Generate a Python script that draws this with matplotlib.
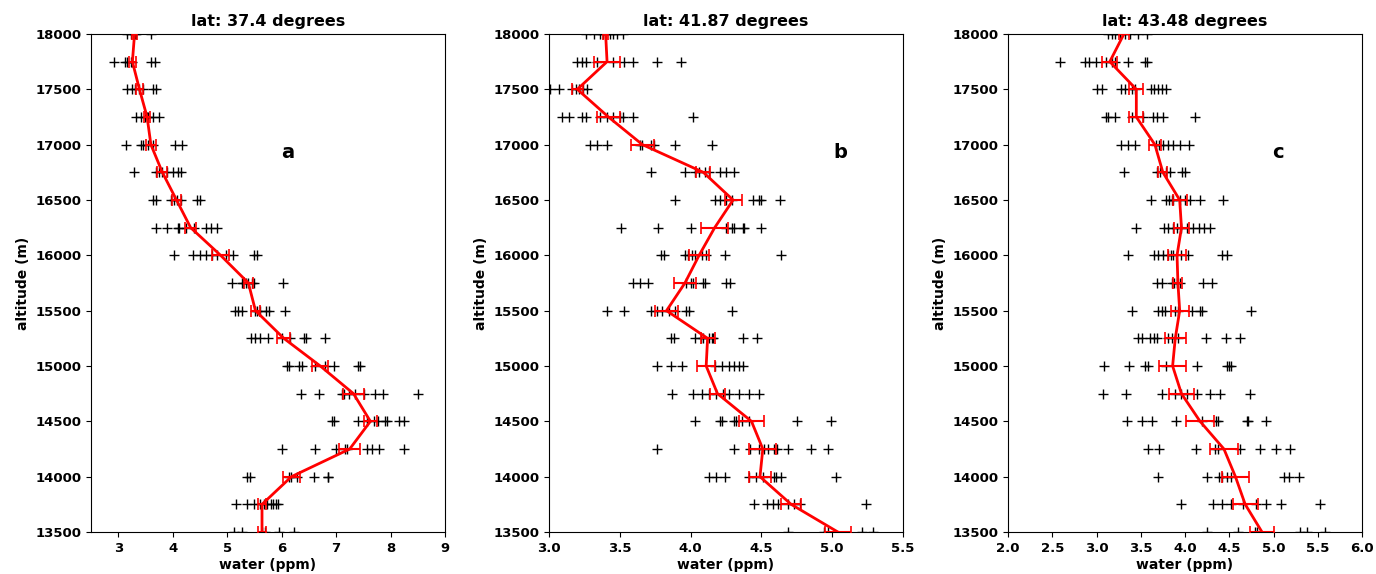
import matplotlib

matplotlib.use("Agg")
import matplotlib.pyplot as plt  # noqa: E402
import numpy as np

# altitude levels, top to bottom (m)
levels = [18000, 17750, 17500, 17250, 17000, 16750, 16500, 16250, 16000, 15750,
          15500, 15250, 15000, 14750, 14500, 14250, 14000, 13750, 13500]

titles = ["lat: 37.4 degrees", "lat: 41.87 degrees", "lat: 43.48 degrees"]
panel_letters = ["a", "b", "c"]

# individual water measurements (ppm) per level
points_a = [
    [3.17, 3.23, 3.30, 3.32, 3.60],
    [2.93, 3.13, 3.17, 3.23, 3.26, 3.60, 3.68],
    [3.17, 3.26, 3.31, 3.39, 3.46, 3.63, 3.69],
    [3.32, 3.42, 3.49, 3.52, 3.55, 3.63, 3.74],
    [3.15, 3.42, 3.46, 3.55, 3.63, 4.04, 4.18],
    [3.29, 3.69, 3.74, 3.81, 3.90, 4.01, 4.09, 4.15],
    [3.63, 3.69, 3.97, 4.03, 4.07, 4.15, 4.45, 4.51],
    [3.70, 3.90, 4.09, 4.12, 4.24, 4.39, 4.61, 4.70, 4.82],
    [4.03, 4.37, 4.51, 4.61, 4.72, 4.82, 4.97, 5.10, 5.49, 5.55],
    [5.08, 5.27, 5.29, 5.34, 5.39, 5.46, 5.49, 6.02],
    [5.14, 5.20, 5.27, 5.52, 5.55, 5.61, 5.71, 5.77, 6.07],
    [5.43, 5.52, 5.61, 5.75, 6.01, 6.16, 6.41, 6.44, 6.79],
    [6.10, 6.13, 6.32, 6.37, 6.62, 6.80, 6.96, 7.40, 7.44],
    [6.35, 6.68, 7.10, 7.14, 7.23, 7.34, 7.51, 7.72, 7.87, 8.50],
    [6.93, 6.96, 7.40, 7.57, 7.69, 7.77, 7.90, 7.93, 8.15, 8.24],
    [6.01, 6.62, 6.99, 7.17, 7.20, 7.57, 7.66, 7.78, 8.24],
    [5.37, 5.42, 6.13, 6.18, 6.29, 6.59, 6.85, 6.86],
    [5.16, 5.37, 5.49, 5.61, 5.67, 5.73, 5.80, 5.84, 5.89, 5.94],
    [5.13, 5.28, 5.64, 5.70, 5.95, 6.22],
]
points_b = [
    [3.26, 3.32, 3.36, 3.38, 3.40, 3.43, 3.45, 3.48, 3.52],
    [3.20, 3.23, 3.26, 3.34, 3.45, 3.53, 3.59, 3.76, 3.93],
    [3.01, 3.07, 3.16, 3.19, 3.21, 3.24, 3.27],
    [3.09, 3.14, 3.23, 3.26, 3.36, 3.41, 3.45, 3.50, 3.52, 3.59, 4.02],
    [3.29, 3.34, 3.41, 3.64, 3.66, 3.72, 3.74, 3.89, 4.15],
    [3.72, 3.96, 4.03, 4.06, 4.10, 4.13, 4.21, 4.25, 4.31],
    [3.89, 4.17, 4.21, 4.25, 4.29, 4.44, 4.48, 4.50, 4.63],
    [3.51, 3.77, 4.00, 4.25, 4.29, 4.31, 4.37, 4.38, 4.50],
    [3.79, 3.81, 3.96, 3.98, 4.01, 4.03, 4.08, 4.11, 4.24, 4.64],
    [3.59, 3.64, 3.70, 3.97, 4.00, 4.02, 4.09, 4.10, 4.25, 4.28],
    [3.41, 3.53, 3.72, 3.76, 3.80, 3.85, 3.89, 3.97, 3.99, 4.29],
    [3.86, 3.88, 4.03, 4.07, 4.09, 4.13, 4.15, 4.16, 4.37, 4.47],
    [3.76, 3.86, 3.94, 4.17, 4.22, 4.27, 4.31, 4.34, 4.37],
    [3.87, 4.02, 4.08, 4.13, 4.18, 4.23, 4.27, 4.34, 4.41, 4.48],
    [4.03, 4.21, 4.22, 4.31, 4.32, 4.36, 4.41, 4.75, 4.99],
    [3.76, 4.31, 4.42, 4.48, 4.52, 4.55, 4.59, 4.61, 4.69, 4.85, 4.97],
    [4.13, 4.18, 4.24, 4.41, 4.46, 4.51, 4.59, 4.60, 4.64, 5.03],
    [4.45, 4.54, 4.58, 4.62, 4.69, 4.73, 4.77, 5.24],
    [4.69, 4.94, 4.97, 5.21, 5.29],
]
points_c = [
    [3.13, 3.17, 3.21, 3.26, 3.32, 3.38, 3.47, 3.57],
    [2.59, 2.87, 2.91, 2.99, 3.11, 3.17, 3.21, 3.36, 3.55, 3.57],
    [3.00, 3.06, 3.28, 3.32, 3.40, 3.43, 3.62, 3.65, 3.69, 3.74, 3.79],
    [3.11, 3.13, 3.21, 3.40, 3.52, 3.64, 3.68, 3.75, 4.11],
    [3.28, 3.36, 3.43, 3.67, 3.71, 3.75, 3.81, 3.87, 3.94, 4.04],
    [3.31, 3.68, 3.72, 3.79, 3.83, 3.97, 4.00],
    [3.62, 3.79, 3.82, 3.85, 3.87, 3.94, 4.00, 4.06, 4.17, 4.43],
    [3.45, 3.76, 3.81, 3.86, 3.91, 3.96, 4.02, 4.09, 4.16, 4.22, 4.28],
    [3.36, 3.65, 3.70, 3.75, 3.81, 3.84, 3.87, 3.96, 4.03, 4.42, 4.48],
    [3.68, 3.74, 3.85, 3.88, 3.91, 3.94, 4.20, 4.30],
    [3.40, 3.70, 3.74, 3.77, 3.89, 3.92, 4.08, 4.17, 4.19, 4.75],
    [3.47, 3.51, 3.60, 3.65, 3.68, 3.81, 3.85, 3.92, 4.24, 4.46, 4.62],
    [3.08, 3.37, 3.55, 3.58, 3.79, 4.14, 4.47, 4.50, 4.52],
    [3.07, 3.33, 3.74, 3.89, 3.96, 4.02, 4.13, 4.28, 4.39, 4.74],
    [3.34, 3.51, 3.63, 3.90, 4.19, 4.35, 4.37, 4.70, 4.71, 4.91],
    [3.58, 3.71, 4.12, 4.34, 4.37, 4.62, 4.85, 5.03, 5.19],
    [3.70, 4.25, 4.38, 4.42, 4.47, 4.52, 5.12, 5.18, 5.29],
    [3.96, 4.32, 4.42, 4.52, 4.65, 4.80, 4.92, 5.08, 5.52],
    [4.25, 4.60, 4.79, 4.81, 5.30, 5.38, 5.58],
]

# mean profile and its error per level
mean_a = [3.30, 3.26, 3.39, 3.53, 3.60, 3.81, 4.07, 4.33, 4.88, 5.39,
          5.52, 6.04, 6.71, 7.32, 7.63, 7.25, 6.18, 5.64, 5.64]
err_a = [0.05, 0.07, 0.07, 0.06, 0.09, 0.09, 0.08, 0.10, 0.15, 0.08,
         0.08, 0.12, 0.15, 0.20, 0.12, 0.19, 0.15, 0.07, 0.07]
mean_b = [3.40, 3.41, 3.20, 3.42, 3.66, 4.09, 4.30, 4.17, 4.06, 3.96,
          3.83, 4.12, 4.11, 4.19, 4.43, 4.51, 4.49, 4.71, 5.04]
err_b = [0.02, 0.09, 0.04, 0.08, 0.08, 0.05, 0.06, 0.095, 0.07, 0.075,
         0.08, 0.05, 0.065, 0.055, 0.09, 0.095, 0.08, 0.07, 0.09]
mean_c = [3.31, 3.15, 3.45, 3.45, 3.66, 3.75, 3.94, 3.96, 3.91, 3.92,
          3.94, 3.89, 3.86, 3.96, 4.17, 4.44, 4.57, 4.68, 4.87]
err_c = [0.06, 0.085, 0.08, 0.08, 0.065, 0.05, 0.08, 0.08, 0.10, 0.05,
         0.10, 0.12, 0.155, 0.14, 0.16, 0.16, 0.15, 0.14, 0.13]

xlims = [(2.5, 9.0), (3.0, 5.5), (2.0, 6.0)]
xticks = [np.arange(3, 10, 1), np.arange(3.0, 5.51, 0.5), np.arange(2.0, 6.01, 0.5)]
xtick_fmt = ["{:.0f}", "{:.1f}", "{:.1f}"]
letter_pos = [(6.12, 16925), (5.06, 16925), (5.05, 16925)]

panels = [
    (points_a, mean_a, err_a),
    (points_b, mean_b, err_b),
    (points_c, mean_c, err_c),
]

W, H = 1376, 574
fig = plt.figure(figsize=(W / 100, H / 100), dpi=100)
lefts = [91, 549, 1008]

for i, (pts, mean, err) in enumerate(panels):
    ax = fig.add_axes([lefts[i] / W, (H - 532) / H, 354 / W, 498 / H])

    # scatter of individual values
    xs = [v for row in pts for v in row]
    ys = [lev for row, lev in zip(pts, levels) for _ in row]
    ax.plot(xs, ys, linestyle="none", marker="+", color="black",
            markersize=7, markeredgewidth=1.0)

    # mean profile with error bars
    ax.errorbar(mean, levels, xerr=err, color="red", linewidth=2,
                elinewidth=1.5, capsize=4, capthick=1.2, zorder=3)

    ax.set_xlim(*xlims[i])
    ax.set_ylim(13500, 18000)
    ax.set_yticks(np.arange(13500, 18001, 500))
    ax.set_xticks(xticks[i])
    ax.set_xticklabels([xtick_fmt[i].format(t) for t in xticks[i]],
                       fontweight="bold", fontsize=9.5)
    ax.set_yticklabels([str(t) for t in range(13500, 18001, 500)],
                       fontweight="bold", fontsize=9.5)

    ax.set_title(titles[i], fontweight="bold", fontsize=11.5, pad=6)
    ax.set_xlabel("water (ppm)", fontweight="bold", fontsize=10, labelpad=2)
    ax.set_ylabel("altitude (m)", fontweight="bold", fontsize=10)
    ax.text(letter_pos[i][0], letter_pos[i][1], panel_letters[i],
            fontweight="bold", fontsize=14, ha="center", va="center")

fig.savefig("out.png", dpi=100)
plt.close(fig)
